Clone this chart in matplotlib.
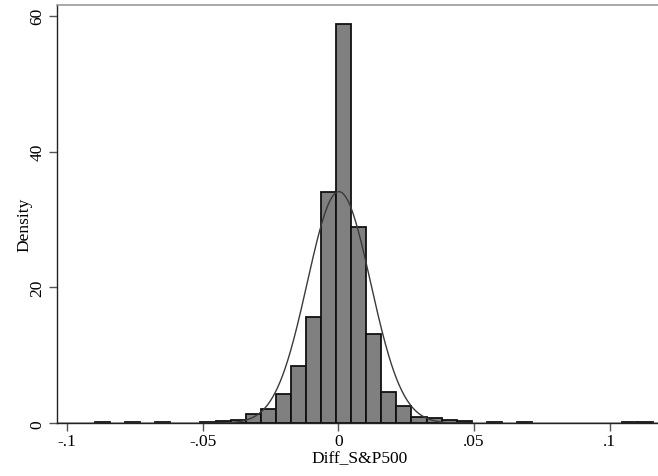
import numpy as np
import matplotlib
matplotlib.use("Agg")
import matplotlib.pyplot as plt

# Histogram data (density per bin), bins of equal width starting at bin_start
bin_start = -0.08976
bin_width = 0.005557
densities = [0.18, 0, 0.18, 0, 0.18, 0, 0, 0.18, 0.3, 0.55,
             1.37, 2.1, 4.3, 8.5, 15.6, 34.1, 58.8, 28.9, 13.2, 4.56,
             2.6, 0.88, 0.78, 0.5, 0.35, 0, 0.18, 0, 0.18, 0,
             0, 0, 0, 0, 0, 0.18, 0.18]
# Normal overlay parameters
norm_mean = 0.0002
norm_sd = 0.0117

xticks = [-0.1, -0.05, 0, 0.05, 0.1]
xticklabels = ["-.1", "-.05", "0", ".05", ".1"]
yticks = [0, 20, 40, 60]
yticklabels = ["0", "20", "40", "60"]

plt.rcParams['font.family'] = ['Liberation Serif', 'DejaVu Serif']

fig = plt.figure(figsize=(6.58, 4.77), dpi=100)
ax_h = (424.3 - 6) / 477
ax_w = 1 - 56.7 / 658
ax = fig.add_axes([56.7/658, 1 - 424.3/477, ax_w, ax_h])

lefts = [bin_start + i * bin_width for i in range(len(densities))]
nz = [(l, d) for l, d in zip(lefts, densities) if d > 0]
ax.bar([l for l, d in nz], [d for l, d in nz], width=bin_width, align='edge',
       color='#808080', edgecolor='#111111', linewidth=1.3, zorder=2)

xs = np.linspace(-0.12, 0.13, 800)
ys = np.exp(-0.5 * ((xs - norm_mean) / norm_sd) ** 2) / (norm_sd * np.sqrt(2 * np.pi))
ax.plot(xs, ys, color='#3a3a3a', linewidth=1.0, zorder=3)

ax.set_xlim((56.7 - 338.4) / 2712, (658 - 338.4) / 2712)
ax.set_ylim(0, (424.3 - 6) / 6.793)

ax.spines['right'].set_visible(False)
ax.spines['top'].set_color('#9a9a9a')
ax.spines['top'].set_linewidth(1.2)
ax.spines['left'].set_color('#222222')
ax.spines['bottom'].set_color('#222222')
ax.spines['left'].set_linewidth(1.0)
ax.spines['bottom'].set_linewidth(1.0)

ax.set_xticks(xticks)
ax.set_xticklabels(xticklabels, fontsize=12.5)
ax.set_yticks(yticks)
ax.set_yticklabels(yticklabels, fontsize=12.5, rotation=90, va='center')
ax.tick_params(axis='both', direction='out', length=6, width=1.0, color='#555555')
ax.tick_params(axis='x', pad=1)
ax.tick_params(axis='y', pad=2)

ax.set_xlabel("Diff_S&P500", fontsize=12.5)
ax.set_ylabel("Density", fontsize=12.5)
ax.xaxis.label.set_va('center')
ax.yaxis.label.set_va('center')
ax.xaxis.set_label_coords((359.5 - 56.7) / 601.3, -(459 - 424.3) / 418.3)
ax.yaxis.set_label_coords(-(56.7 - 24) / 601.3, 0.5 - (225 - 215) / 418.3)

fig.savefig("out.png", dpi=100)
